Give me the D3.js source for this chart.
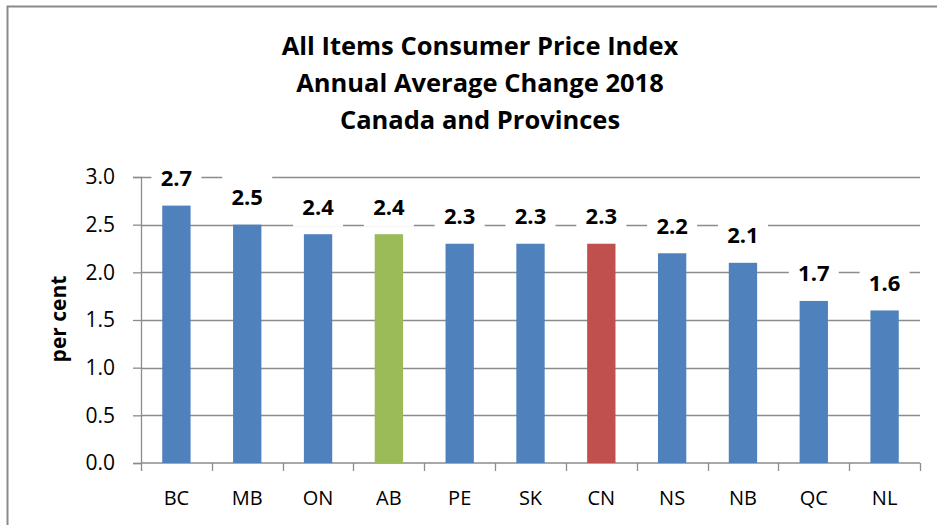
<!DOCTYPE html>
<html>
<head>
<meta charset="utf-8">
<script src="https://cdn.jsdelivr.net/npm/d3@7"></script>
<style>
  body { margin: 0; background: #fff; }
  svg { display: block; }
</style>
</head>
<body>
<div id="chart"></div>
<script>
// Datos: cambio promedio anual del IPC 2018
const provincias = ["BC", "MB", "ON", "AB", "PE", "SK", "CN", "NS", "NB", "QC", "NL"];
const valores = [2.7, 2.5, 2.4, 2.4, 2.3, 2.3, 2.3, 2.2, 2.1, 1.7, 1.6];
const tickValores = [0, 0.5, 1.0, 1.5, 2.0, 2.5, 3.0];
const titulo = ["All Items Consumer Price Index", "Annual Average Change 2018", "Canada and Provinces"];
const etiquetaY = "per cent";

// Colores por categoria (AB verde, CN rojo, resto azul)
const colorBarra = d => d === "AB" ? "#9BBB59" : d === "CN" ? "#C0504D" : "#4F81BD";

const fuente = "'Open Sans', sans-serif";
const W = 937, H = 525;
const margin = { top: 177, right: 17, bottom: 62, left: 141 },
    width = W - margin.left - margin.right,
    height = H - margin.top - margin.bottom;

const svg = d3.select("#chart").append("svg")
    .attr("width", W)
    .attr("height", H);

// Marco del grafico
svg.append("rect")
    .attr("x", 7.5).attr("y", 6.5)
    .attr("width", 1000).attr("height", 1000)
    .attr("fill", "none")
    .attr("stroke", "#8a8a8a")
    .attr("stroke-width", 2);

// Titulo
svg.append("text")
    .attr("text-anchor", "middle")
    .style("font-family", fuente)
    .style("font-weight", "bold")
    .style("font-size", "25.5px")
    .attr("fill", "#000")
    .selectAll("tspan")
    .data(titulo)
    .enter().append("tspan")
    .attr("x", 480)
    .attr("y", (d, i) => 55 + i * 37)
    .text(d => d);

const g = svg.append("g")
    .attr("transform", "translate(" + margin.left + "," + margin.top + ")");

const x = d3.scaleBand().domain(provincias).range([0, width]).paddingInner(0.6).paddingOuter(0.3);
const xb = d3.scaleBand().domain(provincias).range([0, width]);
const y = d3.scaleLinear().domain([0, 3]).range([height, 0]);

// Lineas de cuadricula
g.append("g")
    .selectAll("line")
    .data(tickValores.filter(d => d > 0))
    .enter().append("line")
    .attr("x1", 0).attr("x2", width)
    .attr("y1", d => Math.round(y(d)) + 0.5)
    .attr("y2", d => Math.round(y(d)) + 0.5)
    .attr("stroke", "#8c8c8c")
    .attr("stroke-width", 1.3);

// Eje y
const yAxis = g.append("g")
    .call(d3.axisLeft(y).tickValues(tickValores).tickFormat(d3.format(".1f")).tickSize(8).tickPadding(18));
yAxis.selectAll("line, path").attr("stroke", "#8c8c8c").attr("stroke-width", 1.3);
yAxis.selectAll("text")
    .style("font-family", fuente)
    .style("font-size", "21px")
    .attr("fill", "#000");

// Eje x con marcas entre categorias
const xAxis = g.append("g")
    .attr("transform", "translate(0," + height + ")");
xAxis.append("line")
    .attr("x1", 0).attr("x2", width)
    .attr("stroke", "#8c8c8c").attr("stroke-width", 1.3);
xAxis.selectAll(".marca")
    .data(provincias.concat(["fin"]))
    .enter().append("line")
    .attr("class", "marca")
    .attr("x1", (d, i) => Math.round(i * xb.step()) + 0.5)
    .attr("x2", (d, i) => Math.round(i * xb.step()) + 0.5)
    .attr("y1", 0).attr("y2", 8)
    .attr("stroke", "#8c8c8c").attr("stroke-width", 1.3);
xAxis.selectAll(".cat")
    .data(provincias)
    .enter().append("text")
    .attr("x", d => xb(d) + xb.bandwidth() / 2)
    .attr("y", 42)
    .attr("text-anchor", "middle")
    .style("font-family", fuente)
    .style("font-size", "20px")
    .attr("fill", "#000")
    .text(d => d);

// Barras
g.selectAll(".bar")
    .data(provincias)
    .enter().append("rect")
    .attr("class", "bar")
    .attr("x", d => x(d))
    .attr("width", x.bandwidth())
    .attr("y", (d, i) => y(valores[i]))
    .attr("height", (d, i) => height - y(valores[i]))
    .attr("fill", d => colorBarra(d));

// Etiquetas de valores con fondo blanco
const etiquetas = g.selectAll(".etq")
    .data(provincias)
    .enter().append("g")
    .attr("class", "etq")
    .attr("transform", (d, i) => "translate(" + (xb(d) + xb.bandwidth() / 2) + "," + (y(valores[i]) - 19.5) + ")");

etiquetas.append("rect")
    .attr("x", -25).attr("width", 50)
    .attr("y", -32).attr("height", 44)
    .attr("fill", "#fff");

etiquetas.append("text")
    .attr("text-anchor", "middle")
    .style("font-family", fuente)
    .style("font-weight", "bold")
    .style("font-size", "22px")
    .attr("fill", "#000")
    .text((d, i) => d3.format(".1f")(valores[i]));

// Titulo del eje y
svg.append("text")
    .attr("transform", "translate(66,319) rotate(-90)")
    .attr("text-anchor", "middle")
    .style("font-family", fuente)
    .style("font-weight", "bold")
    .style("font-size", "21px")
    .attr("fill", "#000")
    .text(etiquetaY);
</script>
</body>
</html>
